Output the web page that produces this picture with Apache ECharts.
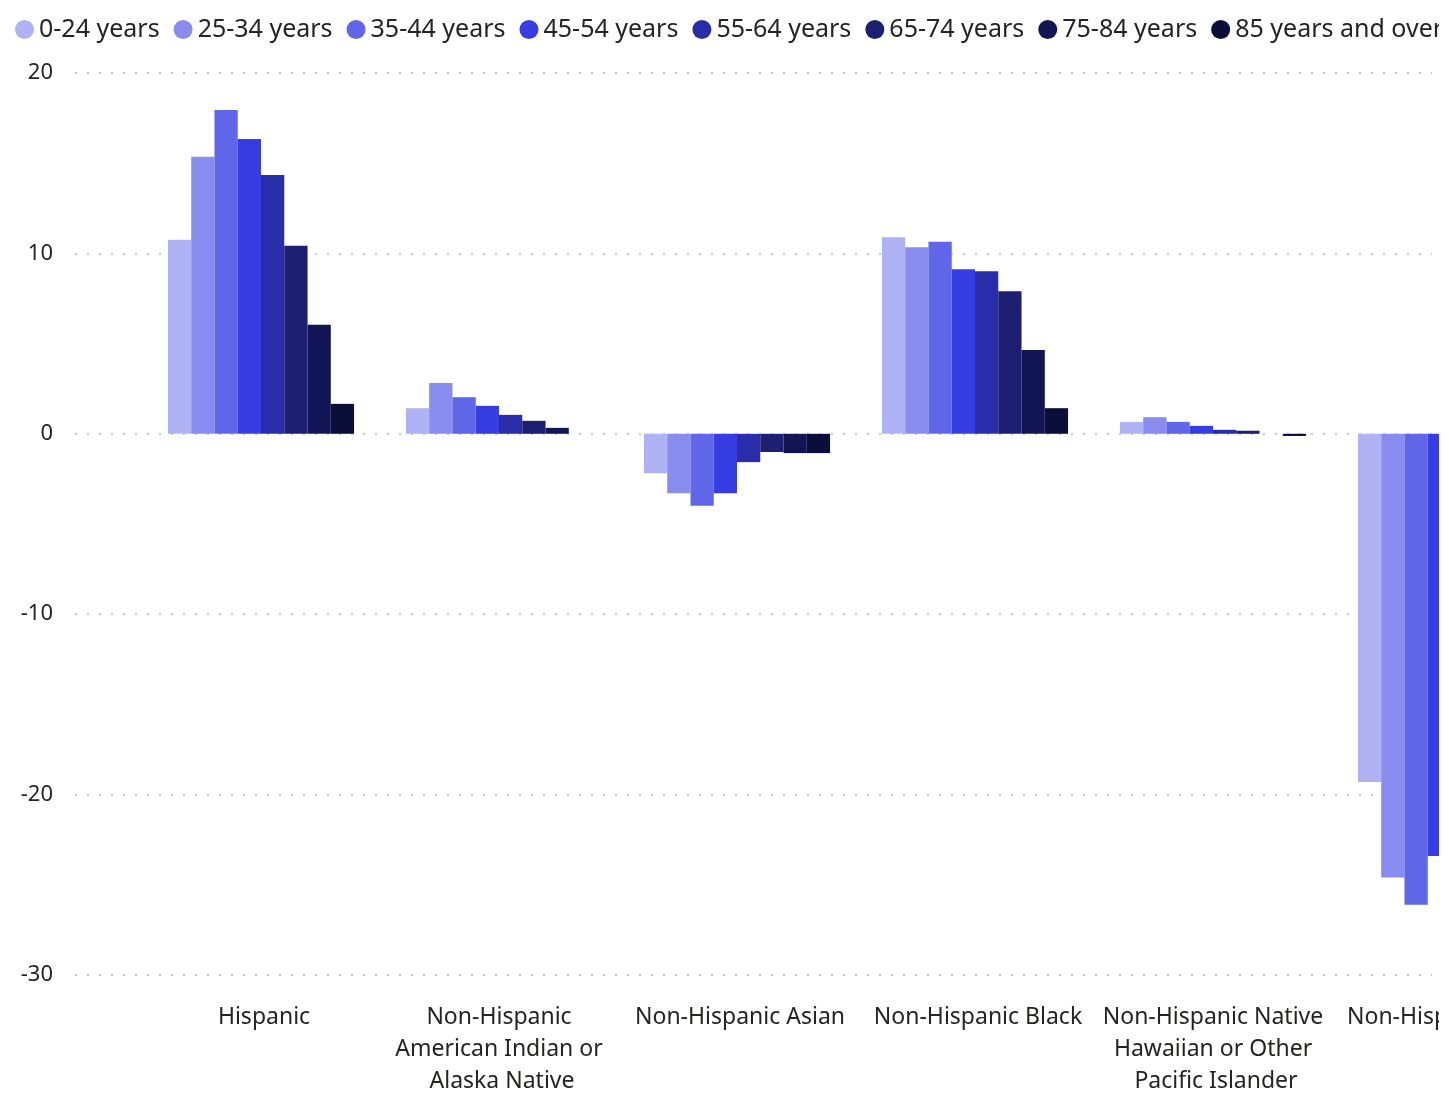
<!DOCTYPE html>
<html>
<head>
<meta charset="utf-8">
<script src="https://cdn.jsdelivr.net/npm/echarts@6/dist/echarts.min.js"></script>
<style>
  html, body { margin: 0; padding: 0; background: #fff; overflow: hidden; }
  #clip { position: absolute; left: 0; top: 0; width: 1439px; height: 1098px; overflow: hidden; }
  #chart { position: absolute; left: 0; top: 0; width: 1600px; height: 1098px; }
</style>
</head>
<body>
<div id="clip"><div id="chart"></div></div>
<script>
// ---- data ----
const categories = [
  'Hispanic',
  'Non-Hispanic American Indian or Alaska Native',
  'Non-Hispanic Asian',
  'Non-Hispanic Black',
  'Non-Hispanic Native Hawaiian or Other Pacific Islander',
  'Non-Hispanic White'
];
const seriesNames = ['0-24 years', '25-34 years', '35-44 years', '45-54 years',
  '55-64 years', '65-74 years', '75-84 years', '85 years and over'];
const age0_24  = [10.75, 1.42, -2.18, 10.90, 0.66, -19.3];
const age25_34 = [15.36, 2.81, -3.29, 10.34, 0.92, -24.6];
const age35_44 = [17.95, 2.03, -3.99, 10.64, 0.66, -26.1];
const age45_54 = [16.34, 1.55, -3.29,  9.12, 0.44, -23.4];
const age55_64 = [14.35, 1.05, -1.57,  9.01, 0.22, -18.0];
const age65_74 = [10.42, 0.72, -1.01,  7.90, 0.17, -11.5];
const age75_84 = [ 6.04, 0.33, -1.07,  4.65, null, -6.0];
const age85    = [ 1.66, null, -1.07,  1.42, -0.12, -2.0];
const yTicks = { min: -30, max: 20, interval: 10 };

const values = [age0_24, age25_34, age35_44, age45_54, age55_64, age65_74, age75_84, age85];
const colors = ['#B0B3F3', '#888CEE', '#6066E8', '#363DE3', '#292DAA', '#1D1F70', '#121553', '#0C0E3A'];

const FONT = '"Noto Sans", "Open Sans", sans-serif';
const chart = echarts.init(document.getElementById('chart'), null, { renderer: 'canvas' });

const series = seriesNames.map((name, i) => ({
  name: name,
  type: 'bar',
  xAxisIndex: 1,
  yAxisIndex: 1,
  data: values[i],
  barGap: '0%',
  barCategoryGap: '21.8%',
  itemStyle: { color: colors[i] },
  emphasis: { disabled: true },
  animation: false
}));

chart.setOption({
  animation: false,
  color: colors,
  textStyle: { fontFamily: FONT },
  legend: {
    data: seriesNames,
    left: 10,
    top: 12,
    icon: 'circle',
    itemWidth: 19,
    itemHeight: 19,
    itemGap: 14,
    itemTextGap: 3,
    textStyle: { fontFamily: FONT, fontSize: 25, color: '#252423' }
  },
  grid: [
    { left: 75, top: 73, width: 1357, height: 902 },
    { left: 142, top: 73, width: 1428, height: 902 }
  ],
  xAxis: [
    { type: 'category', gridIndex: 0, data: categories, show: false },
    {
      type: 'category', gridIndex: 1, data: categories,
      axisLine: { show: false }, axisTick: { show: false },
      axisLabel: {
        interval: 0, margin: 26, fontFamily: FONT, fontSize: 23, color: '#252423',
        lineHeight: 32, width: 228, overflow: 'break', align: 'center',
        padding: [0, 0, 0, 6]
      }
    }
  ],
  yAxis: [
    {
      type: 'value', gridIndex: 0, min: yTicks.min, max: yTicks.max, interval: yTicks.interval,
      axisLine: { show: false }, axisTick: { show: false },
      axisLabel: { margin: 22, fontFamily: FONT, fontSize: 22, color: '#252423' },
      splitLine: { show: true, lineStyle: { color: '#C8C8C8', width: 2, type: [2, 10] } }
    },
    {
      type: 'value', gridIndex: 1, min: yTicks.min, max: yTicks.max, interval: yTicks.interval,
      show: false, splitLine: { show: false }
    }
  ],
  series: series
});
</script>
</body>
</html>
